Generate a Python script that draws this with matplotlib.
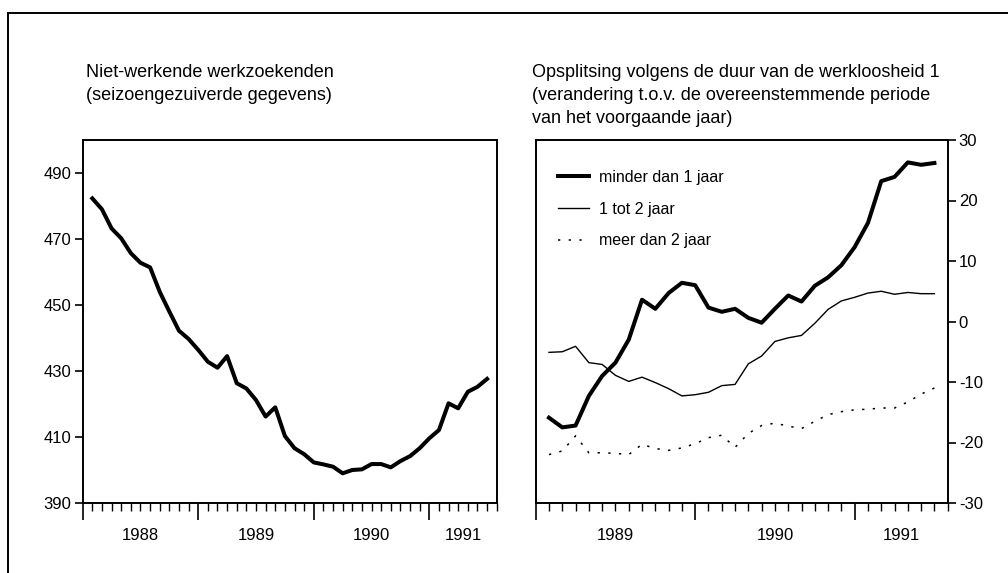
import numpy as np
import matplotlib

matplotlib.use("Agg")
import matplotlib.pyplot as plt
from matplotlib.lines import Line2D
from matplotlib.ticker import FixedLocator

plt.rcParams["font.family"] = ["Liberation Sans", "DejaVu Sans"]
plt.rcParams["axes.unicode_minus"] = False

# Left: niet-werkende werkzoekenden (duizendtallen), monthly from Jan 1988
werkzoekenden = [
    482.3, 479.0, 473.2, 470.2, 465.7, 462.8, 461.4, 454.0, 448.0, 442.2,
    439.7, 436.4, 432.8, 431.0, 434.5, 426.3, 424.7, 421.2, 416.2, 419.0,
    410.3, 406.6, 404.8, 402.3, 401.7, 401.0, 399.0, 400.0, 400.2, 401.8,
    401.8, 400.8, 402.7, 404.2, 406.6, 409.6, 412.1, 420.2, 418.7, 423.7,
    425.2, 427.6,
]
left_start = 1988
left_years = ["1988", "1989", "1990", "1991"]
left_yticks = [390, 410, 430, 450, 470, 490]

# Right: verandering t.o.v. vorig jaar (%), monthly from Jan 1989
minder_dan_1 = [
    -15.9, -17.5, -17.2, -12.3, -9.0, -6.8, -3.0, 3.6, 2.1, 4.7,
    6.4, 6.0, 2.3, 1.6, 2.1, 0.6, -0.2, 2.1, 4.3, 3.3,
    5.9, 7.3, 9.3, 12.3, 16.3, 23.2, 23.9, 26.3, 25.9, 26.2,
]
een_tot_twee = [
    -5.1, -5.0, -4.1, -6.8, -7.1, -8.9, -9.9, -9.2, -10.1, -11.1,
    -12.3, -12.1, -11.7, -10.6, -10.4, -7.0, -5.7, -3.3, -2.7, -2.3,
    -0.3, 2.0, 3.4, 4.0, 4.7, 5.0, 4.5, 4.8, 4.6, 4.6,
]
meer_dan_2 = [
    -22.0, -21.4, -18.9, -21.7, -21.7, -21.8, -22.0, -20.3, -21.0, -21.3,
    -20.9, -20.2, -19.2, -18.8, -20.8, -18.5, -17.2, -16.8, -17.3, -17.7,
    -16.5, -15.4, -14.9, -14.6, -14.5, -14.3, -14.3, -13.3, -12.0, -11.0,
]
right_start = 1989
right_years = ["1989", "1990", "1991"]
right_yticks = [-30, -20, -10, 0, 10, 20, 30]
labels = ["minder dan 1 jaar", "1 tot 2 jaar", "meer dan 2 jaar"]

X_END = 1991 + 7 / 12
FS = 12
TITLE_FS = 13


def month_axis(ax, start, years):
    ax.set_xlim(start, X_END)
    ax.xaxis.set_major_locator(FixedLocator(np.arange(start, 1992)))
    ax.xaxis.set_minor_locator(FixedLocator(start + np.arange(0, (X_END - start) * 12 + 0.5) / 12))
    ax.tick_params(axis="x", which="major", length=12, width=1.2, labelbottom=False)
    ax.tick_params(axis="x", which="minor", length=6, width=1.0)
    trans = ax.get_xaxis_transform()
    # year labels sit in the middle of the visible part of each year
    for lab in years:
        y0 = int(lab)
        mid = (max(y0, start) + min(y0 + 1, X_END)) / 2
        ax.text(mid, -0.09, lab, transform=trans, ha="center", va="center", fontsize=FS)
    for sp in ax.spines.values():
        sp.set_linewidth(1.4)


fig = plt.figure(figsize=(10.08, 5.73), dpi=100)
W, H = 1008, 573

# ---- left panel
ax1 = fig.add_axes([82.7 / W, 1 - 503 / H, 414 / W, 363 / H])
x1 = left_start + (np.arange(len(werkzoekenden)) + 1) / 12
ax1.plot(x1, werkzoekenden, color="black", lw=2.9)
ax1.set_ylim(390, 500)
ax1.set_yticks(left_yticks)
ax1.tick_params(axis="y", length=6, width=1.2, labelsize=FS, pad=2)
month_axis(ax1, left_start, left_years)

# ---- right panel
ax2 = fig.add_axes([535.7 / W, 1 - 503 / H, 412 / W, 363 / H])
x2 = right_start + (np.arange(len(minder_dan_1)) + 1) / 12
h1, = ax2.plot(x2, minder_dan_1, color="black", lw=2.9, label=labels[0])
h2, = ax2.plot(x2, een_tot_twee, color="black", lw=1.0, label=labels[1])
h3, = ax2.plot(x2, meer_dan_2, color="black", lw=1.1, ls=(0, (1.5, 5.5)), label=labels[2])
ax2.set_ylim(-30, 30)
ax2.set_yticks(right_yticks)
ax2.yaxis.tick_right()
ax2.tick_params(axis="y", length=6, width=1.2, labelsize=FS, pad=2)
month_axis(ax2, right_start, right_years)
ax2.legend(
    handles=[h1, h2, h3], loc="upper left", bbox_to_anchor=(0.053, 0.918),
    frameon=False, fontsize=11.5, handlelength=2.0, handletextpad=0.6,
    labelspacing=1.05, borderpad=0, borderaxespad=0,
)

# ---- titles
left_title = ["Niet-werkende werkzoekenden", "(seizoengezuiverde gegevens)"]
right_title = [
    "Opsplitsing volgens de duur van de werkloosheid 1",
    "(verandering t.o.v. de overeenstemmende periode",
    "van het voorgaande jaar)",
]
for x0, lines in ((86, left_title), (532, right_title)):
    for i, line in enumerate(lines):
        fig.text(x0 / W, 1 - (76.7 + 23 * i) / H, line, fontsize=TITLE_FS, va="baseline")

# ---- outer frame (left and top edges of the page box)
fig.add_artist(Line2D([8 / W, 1.01], [1 - 13 / H] * 2, transform=fig.transFigure, color="black", lw=1.4))
fig.add_artist(Line2D([8 / W] * 2, [1 - 13 / H, -0.01], transform=fig.transFigure, color="black", lw=1.4))

fig.savefig("out.png", dpi=100, facecolor="white")
